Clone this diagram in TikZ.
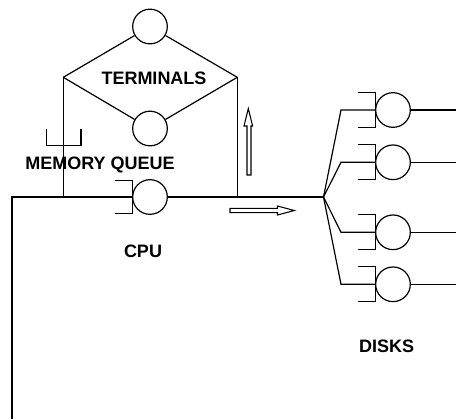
\documentclass[tikz,border=0pt]{standalone}
\usepackage{fontspec}
\setmainfont{Liberation Sans}
\begin{document}
\begin{tikzpicture}[x=0.75pt,y=-0.75pt,line width=0.9pt,
  srv/.style={draw,circle,inner sep=0pt,minimum size=26pt},
  lbl/.style={font=\bfseries\fontsize{13.5pt}{14pt}\selectfont,inner sep=0pt}]
\useasboundingbox (0,0) rectangle (456,419);
% terminals
\node[srv] (t1) at (150,26.5) {};
\node[srv] (t2) at (150,128.5) {};
\coordinate (dl) at (63.3,77.3);
\coordinate (dr) at (237.3,77.3);
\draw (dl) -- (t1) -- (dr);
\draw (dl) -- (t2) -- (dr);
\node[lbl] (term) at (154,78.5) {TERMINALS};
% CPU
\node[srv] (cpu) at (150,197) {};
\draw (132.5,180.5) -- (115,180.5) (132.5,213.5) -- (115,213.5) (132.5,180.5) -- (132.5,213.5);
\coordinate (cq) at (132.5,197);
\coordinate (ml) at (63.3,197);
\coordinate (mr) at (237.3,197);
\coordinate (fan) at (323.5,197);
\coordinate (lc) at (12,197);
\coordinate (lb) at (12,419);
\draw (lb) -- (lc) -- (cq);
\draw (dl) -- (ml);
\draw (dr) -- (mr);
\draw (cpu) -- (fan);
\node[lbl] (cpul) at (143,251) {CPU};
% memory queue
\draw (46.7,129) -- (46.7,145.7) -- (81,145.7) -- (81,129);
\node[lbl] (mq) at (100,164.5) {MEMORY QUEUE};
% arrows
\draw[line width=0.8pt] (247,175) -- (247,126) -- (244,126) -- (248.3,108.5) -- (252.6,126) -- (251,126) -- (251,175) -- cycle;
\draw[line width=0.8pt] (230,208.3) -- (277.5,208.3) -- (277.5,206) -- (294.3,210.5) -- (277.5,215) -- (277.5,212.7) -- (230,212.7) -- cycle;
% disks
\foreach \i/\y in {1/110,2/162.3,3/232.3,4/284.3}{
  \node[srv] (d\i) at (393,\y) {};
  \draw (375.7,\y-17.5) -- (357.7,\y-17.5) (375.7,\y+17.5) -- (357.7,\y+17.5) (375.7,\y-17.5) -- (375.7,\y+17.5);
  \coordinate (b\i) at (341,\y);
  \coordinate (q\i) at (375.7,\y);
  \coordinate (o\i) at (456,\y);
  \draw (fan) -- (b\i) -- (q\i);
  \draw (d\i) -- (o\i);
}
\node[lbl] (disks) at (386.7,346) {DISKS};
\end{tikzpicture}
\end{document}
